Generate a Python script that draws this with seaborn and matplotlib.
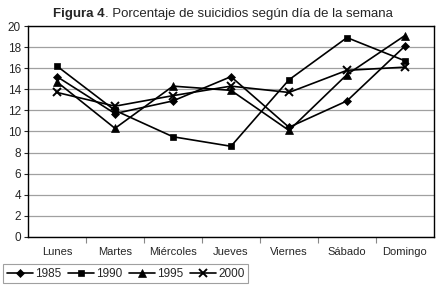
import numpy as np
import pandas as pd
import seaborn as sns
import matplotlib.pyplot as plt

dias = ['Lunes', 'Martes', 'Miércoles', 'Jueves', 'Viernes', 'Sábado', 'Domingo']
anios = ['1985', '1990', '1995', '2000']
v1985 = [15.2, 11.7, 12.9, 15.2, 10.4, 12.9, 18.1]
v1990 = [16.2, 12.0, 9.5, 8.6, 14.9, 18.9, 16.7]
v1995 = [14.7, 10.3, 14.3, 13.9, 10.1, 15.4, 19.1]
v2000 = [13.7, 12.4, 13.4, 14.3, 13.7, 15.8, 16.1]

df = pd.DataFrame({
    'dia': dias * 4,
    'anio': np.repeat(anios, len(dias)),
    'pct': v1985 + v1990 + v1995 + v2000,
})

sns.set_style('white')
plt.rcParams['font.family'] = ['Liberation Sans', 'DejaVu Sans']

fig = plt.figure(figsize=(4.4, 2.89), dpi=100)
ax = fig.add_axes([0.0636, 0.180, 0.9227, 0.730])

marcas = {'1985': 'D', '1990': 's', '1995': '^', '2000': 'x'}
tam = {'1985': 4.2, '1990': 5, '1995': 5.5, '2000': 5.5}
for a in anios:
    sub = df[df['anio'] == a]
    sns.lineplot(data=sub, x='dia', y='pct', ax=ax, color='black', lw=1.2,
                 marker=marcas[a], markersize=tam[a],
                 markeredgewidth=1.4 if a == '2000' else 0.5,
                 markeredgecolor='black', label=a, sort=False)

ax.set_xlim(-0.5, 6.5)
ax.set_ylim(0, 20)
ax.set_yticks(range(0, 21, 2))
ax.yaxis.grid(True, color='#a0a0a0', lw=0.9)
ax.set_axisbelow(True)
ax.set_xticks(range(7))
ax.set_xticklabels(dias, fontsize=8)
ax.set_xticks(np.arange(0.5, 6, 1), minor=True)
ax.tick_params(axis='x', which='major', length=0, pad=7)
ax.tick_params(axis='x', which='minor', length=4, width=0.8, direction='out', bottom=True, color='#888888')
ax.tick_params(axis='y', length=3, width=0.8, direction='out', left=True, labelsize=8.5, pad=2)
for s in ax.spines.values():
    s.set_color('black')
    s.set_linewidth(1.0)
ax.set_xlabel('')
ax.set_ylabel('')

ax.get_legend().remove()
h, l = ax.get_legend_handles_labels()
leg = fig.legend(h, l, loc='lower left', bbox_to_anchor=(0.007, 0.02), ncol=4,
                 fontsize=8.5, frameon=True, fancybox=False, handlelength=2.2,
                 handletextpad=0.2, columnspacing=0.55, borderpad=0.3, borderaxespad=0)
leg.get_frame().set_edgecolor('#888888')
leg.get_frame().set_linewidth(0.8)

# título: parte en negrita y parte normal
fig.canvas.draw()
r = fig.canvas.get_renderer()
t1 = fig.text(0, 0, 'Figura 4', fontsize=9.5, fontweight='bold')
t2 = fig.text(0, 0, '. Porcentaje de suicidios según día de la semana', fontsize=9.5)
w1 = t1.get_window_extent(r).width / 440
w2 = t2.get_window_extent(r).width / 440
x0 = 0.507 - (w1 + w2) / 2
t1.set_position((x0, 0.94))
t2.set_position((x0 + w1, 0.94))

fig.savefig('out.png', dpi=100)
